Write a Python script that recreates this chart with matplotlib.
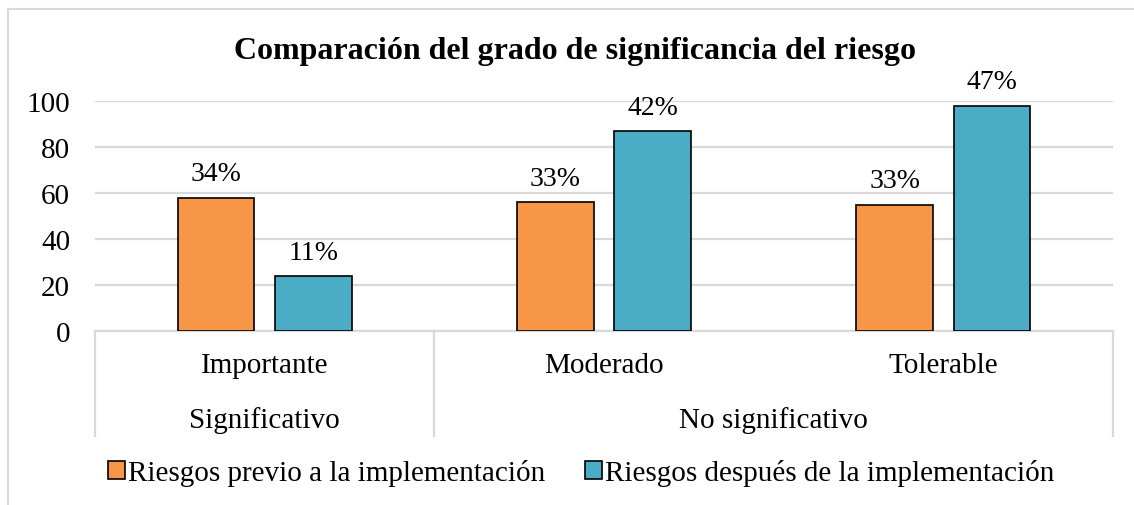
import matplotlib.pyplot as plt
from matplotlib.lines import Line2D
from matplotlib.patches import Patch
import numpy as np

plt.rcParams["font.family"] = ["Liberation Serif", "DejaVu Serif"]

categories = ["Importante", "Moderado", "Tolerable"]
groups = ["Significativo", "No significativo"]
group_centers = [0, 1.5]
series_names = ["Riesgos previo a la implementación", "Riesgos después de la implementación"]
previo = [58, 56, 55]
despues = [24, 87, 98]
previo_labels = ["34%", "33%", "33%"]
despues_labels = ["11%", "42%", "47%"]
colors = ["#F79646", "#4BACC6"]
grid_color = "#D9D9D9"

W, H = 1134, 506
fig = plt.figure(figsize=(W / 100, H / 100), dpi=100)
ax = fig.add_axes([95 / W, (H - 332) / H, (1113 - 95) / W, 230 / H])

x = np.arange(len(categories))
width = 0.226
off = 0.143
b1 = ax.bar(x - off, previo, width, color=colors[0], edgecolor="black", linewidth=1.2, zorder=3)
b2 = ax.bar(x + off, despues, width, color=colors[1], edgecolor="black", linewidth=1.2, zorder=3)

for bars, labels in [(b1, previo_labels), (b2, despues_labels)]:
    for rect, lab in zip(bars, labels):
        ax.annotate(lab, (rect.get_x() + rect.get_width() / 2, rect.get_height()),
                    xytext=(0, 8), textcoords="offset points", ha="center", va="bottom",
                    fontsize=20, annotation_clip=False)

ax.set_xlim(-0.5, 2.5)
ax.set_ylim(0, 100)
ax.set_yticks([0, 20, 40, 60, 80, 100])
ax.set_xticks([])
ax.tick_params(axis="y", length=0, pad=18, labelsize=21)
ax.yaxis.grid(True, color=grid_color, linewidth=1.6, zorder=0)
for s in ["top", "right", "left"]:
    ax.spines[s].set_visible(False)
ax.spines["bottom"].set_color(grid_color)
ax.spines["bottom"].set_linewidth(1.6)

# two-level category axis
tr = ax.get_xaxis_transform()
for xi, c in zip(x, categories):
    ax.text(xi, -0.148, c, transform=tr, ha="center", va="center", fontsize=21)
for gx, g in zip(group_centers, groups):
    ax.text(gx, -0.383, g, transform=tr, ha="center", va="center", fontsize=21)
for sx in [-0.5, 0.5, 2.5]:
    ax.add_line(Line2D([sx, sx], [0, -0.457], transform=tr, color=grid_color,
                       linewidth=1.6, clip_on=False))

fig.text(575 / W, 1 - 51 / H, "Comparación del grado de significancia del riesgo",
         ha="center", va="center", fontsize=23, fontweight="bold")

handles = [Patch(facecolor=c, edgecolor="black", linewidth=1.2) for c in colors]
fig.legend(handles, series_names, loc="center", bbox_to_anchor=(581 / W, 1 - 474 / H),
           ncol=2, frameon=False, fontsize=21, handlelength=0.6, handleheight=0.6,
           handletextpad=0.1, columnspacing=1.35)

# chart frame (left and top edges visible)
fig.add_artist(Line2D([8 / W, 8 / W], [0, 1 - 10 / H], color=grid_color, linewidth=1.5))
fig.add_artist(Line2D([8 / W, 1], [1 - 10 / H, 1 - 10 / H], color=grid_color, linewidth=1.5))

fig.savefig("out.png", dpi=100)
